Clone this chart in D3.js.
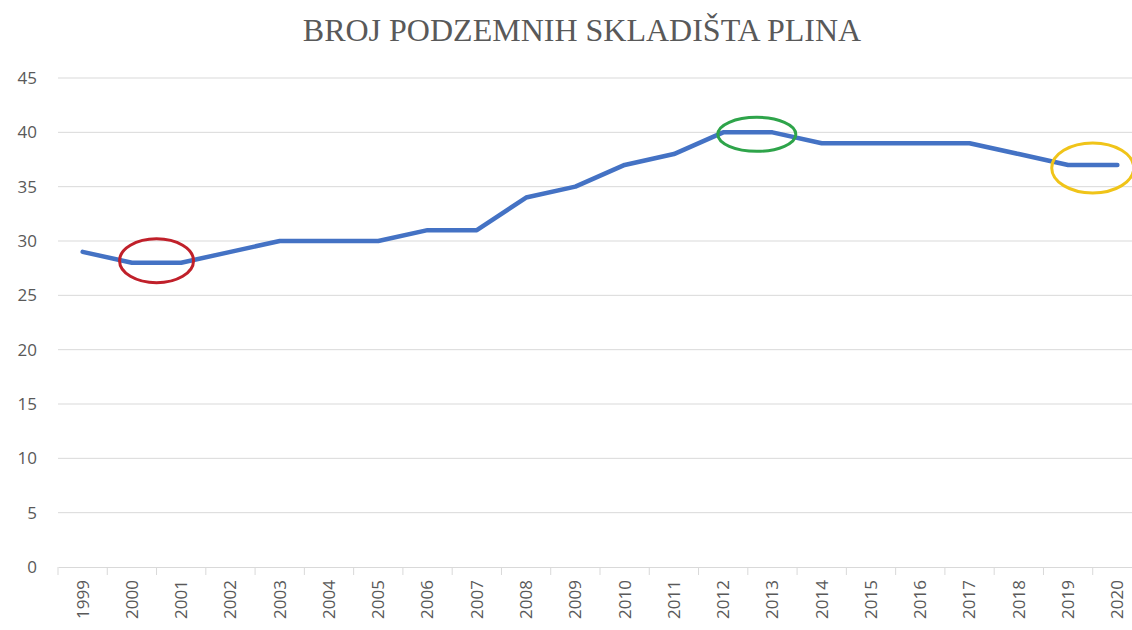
<!DOCTYPE html>
<html><head><meta charset="utf-8">
<script src="https://cdn.jsdelivr.net/npm/d3@7"></script>
<style>body{margin:0;background:#fff}svg{display:block}</style>
</head><body>
<svg id="c" width="1132" height="630"></svg>
<script>
const title = "BROJ PODZEMNIH SKLADIŠTA PLINA";
const years = ["1999","2000","2001","2002","2003","2004","2005","2006","2007","2008","2009","2010","2011","2012","2013","2014","2015","2016","2017","2018","2019","2020"];
const values = [29,28,28,29,30,30,30,31,31,34,35,37,38,40,40,39,39,39,39,38,37,37];
const yTicks = [0,5,10,15,20,25,30,35,40,45];
// highlight annotations
const highlightFrom = ["2000","2012","2019"];
const highlightTo = ["2001","2013","2020"];
const highlightValue = [28,40,37];
const highlightColor = ["#c0202a","#2ea44a","#f0c419"];

(function(){
const svg = d3.select("#c");
const mLeft = 58, mRight = 1142, mTop = 78, mBottom = 567;
const x = d3.scaleBand().domain(years).range([mLeft, mRight]).padding(0);
const y = d3.scaleLinear().domain([0,45]).range([mBottom, mTop]);

svg.append("text").attr("x", 582).attr("y", 41).attr("text-anchor","middle")
  .attr("font-family","'Liberation Serif', 'Times New Roman', serif").attr("font-size", 32)
  .attr("fill","#595959").text(title);

// gridlines
svg.append("g").selectAll("line").data(yTicks.filter(d=>d>0)).join("line")
  .attr("x1", mLeft).attr("x2", mRight).attr("y1", d=>y(d)).attr("y2", d=>y(d))
  .attr("stroke","#d9d9d9").attr("stroke-width",1);

// y labels
svg.append("g").selectAll("text").data(yTicks).join("text")
  .attr("x", 37).attr("y", d=>y(d)).attr("dy","0.35em").attr("text-anchor","end")
  .attr("font-family","'Open Sans', sans-serif").attr("font-size",17).attr("fill","#595959")
  .text(d=>d);

// x axis
const xa = svg.append("g").attr("transform",`translate(0,${mBottom})`)
  .call(d3.axisBottom(x).tickSize(0).tickPadding(0).tickFormat(""));
xa.select(".domain").attr("stroke","#d9d9d9");
xa.selectAll(".tick").remove();
const bounds = years.map(d=>x(d)).concat([x(years[years.length-1])+x.bandwidth()]);
svg.append("g").selectAll("line").data(bounds).join("line")
  .attr("x1",d=>d).attr("x2",d=>d).attr("y1",mBottom).attr("y2",mBottom+8)
  .attr("stroke","#d9d9d9");
svg.append("g").selectAll("text").data(years).join("text")
  .attr("transform", d=>`translate(${x(d)+x.bandwidth()/2},${mBottom+13}) rotate(-90)`)
  .attr("text-anchor","end").attr("dy","0.35em")
  .attr("font-family","'Open Sans', sans-serif").attr("font-size",17).attr("fill","#595959")
  .text(d=>d);

// line
const cx = d => x(d) + x.bandwidth()/2;
svg.append("path").datum(years.map((d,i)=>[cx(d), y(values[i])]))
  .attr("d", d3.line().curve(d3.curveLinear))
  .attr("fill","none").attr("stroke","#4472c4").attr("stroke-width",4.5)
  .attr("stroke-linejoin","round").attr("stroke-linecap","round");

// highlight ellipses
svg.append("g").selectAll("ellipse").data(highlightFrom).join("ellipse")
  .attr("cx",(d,i)=>(cx(d)+cx(highlightTo[i]))/2 + (i===1?9:0))
  .attr("cy",(d,i)=>y(highlightValue[i]) + (i===0?-2:(i===2?3:2)))
  .attr("rx",(d,i)=>[37,39,41][i]).attr("ry",(d,i)=>[22,17,25][i])
  .attr("fill","none").attr("stroke",(d,i)=>highlightColor[i]).attr("stroke-width",3);
})();
</script>
</body></html>
